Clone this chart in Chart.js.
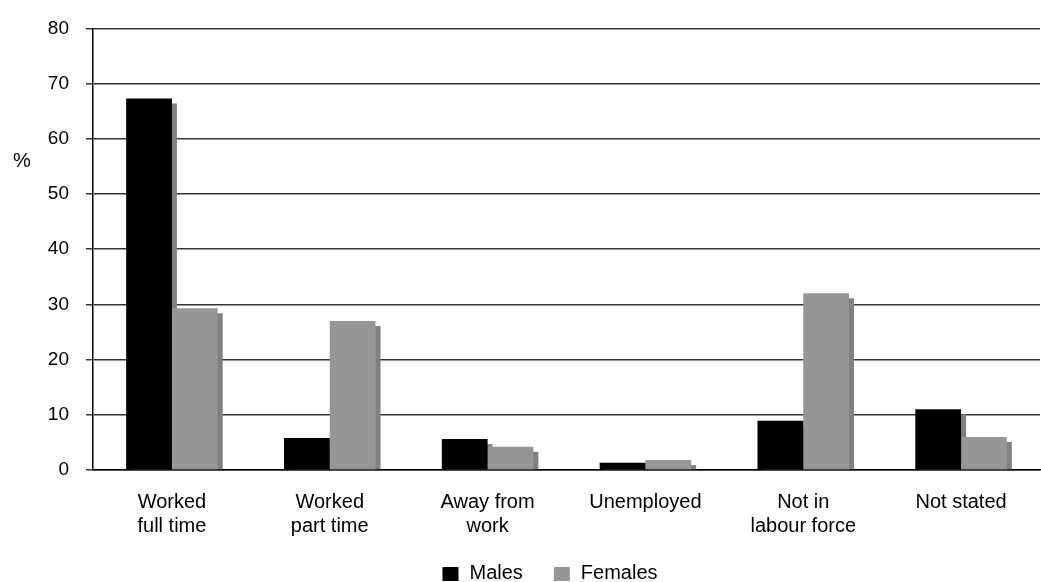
<!DOCTYPE html>
<html>
<head>
<meta charset="utf-8">
<script src="https://cdn.jsdelivr.net/npm/chart.js@4.4.1/dist/chart.umd.min.js"></script>
<style>
  html, body { margin: 0; padding: 0; background: #ffffff; }
  #wrap { width: 1041px; height: 582px; position: relative; }
</style>
</head>
<body>
<div id="wrap"><canvas id="chart"></canvas></div>
<script>
// Labour force status by sex (%)
const categories = [
  ['Worked', 'full time'],
  ['Worked', 'part time'],
  ['Away from', 'work'],
  'Unemployed',
  ['Not in', 'labour force'],
  'Not stated'
];
const males = [67.3, 5.8, 5.6, 1.3, 8.9, 11.0];
const females = [29.3, 27.0, 4.2, 1.8, 32.0, 6.0];
const yTicks = [0, 10, 20, 30, 40, 50, 60, 70, 80];

const FONT = "'Liberation Sans', Arial, sans-serif";
Chart.defaults.font.family = FONT;
Chart.defaults.font.size = 19;
Chart.defaults.color = '#000000';

// Flat offset "shadow" behind each bar, like the old spreadsheet 3D look
const barShadow = {
  id: 'barShadow',
  beforeDatasetsDraw(chart) {
    const ctx = chart.ctx;
    const area = chart.chartArea;
    ctx.save();
    ctx.beginPath();
    ctx.rect(area.left, area.top, area.right - area.left, area.bottom - area.top);
    ctx.clip();
    ctx.fillStyle = '#808080';
    chart.data.datasets.forEach((ds, i) => {
      const meta = chart.getDatasetMeta(i);
      meta.data.forEach(bar => {
        const { x, y, base, width } = bar.getProps(['x', 'y', 'base', 'width'], true);
        ctx.fillRect(x - width / 2 + 5, y + 5, width, base - y - 5);
      });
    });
    ctx.restore();
  }
};

// "%" unit label and the bottom legend, drawn by hand
const extras = {
  id: 'extras',
  afterDraw(chart) {
    const ctx = chart.ctx;
    ctx.save();
    ctx.font = '20px ' + FONT;
    ctx.fillStyle = '#000';
    ctx.textAlign = 'left';
    ctx.textBaseline = 'middle';
    ctx.fillText('%', 13, 161);

    // legend row
    const items = chart.data.datasets.map(ds => ({ text: ds.label, color: ds.backgroundColor }));
    const boxW = 16, boxH = 14, gap = 11, spacing = 31;
    let total = 0;
    items.forEach((it, i) => {
      it.w = ctx.measureText(it.text).width;
      total += boxW + gap + it.w + (i ? spacing : 0);
    });
    let x = 550 - total / 2;
    const cy = 573;
    items.forEach(it => {
      ctx.fillStyle = it.color;
      ctx.fillRect(x, cy - boxH / 2 + 1, boxW, boxH);
      ctx.fillStyle = '#000';
      ctx.fillText(it.text, x + boxW + gap, cy);
      x += boxW + gap + it.w + spacing;
    });
    ctx.restore();
  }
};

new Chart(document.getElementById('chart'), {
  type: 'bar',
  data: {
    labels: categories,
    datasets: [
      {
        label: 'Males',
        data: males,
        backgroundColor: '#000000',
        borderWidth: 0
      },
      {
        label: 'Females',
        data: females,
        backgroundColor: '#969696',
        borderWidth: 0
      }
    ]
  },
  options: {
    responsive: true,
    maintainAspectRatio: false,
    animation: false,
    layout: {
      padding: { top: 13, right: 1, left: 0, bottom: 24 }
    },
    datasets: {
      bar: {
        barPercentage: 1,
        categoryPercentage: 0.58
      }
    },
    plugins: {
      tooltip: { enabled: false },
      legend: { display: false }
    },
    scales: {
      x: {
        grid: { display: false, drawTicks: false },
        border: { display: true, color: '#000', width: 1.5 },
        ticks: {
          padding: 20,
          maxRotation: 0,
          autoSkip: false,
          font: { size: 20, family: FONT, lineHeight: 1.2 },
          color: '#000'
        }
      },
      y: {
        min: 0,
        max: 80,
        afterBuildTicks(scale) {
          scale.ticks = yTicks.map(v => ({ value: v }));
        },
        afterFit(scale) { scale.width = 93; },
        grid: {
          color: '#333',
          lineWidth: 1.5,
          drawTicks: true,
          tickLength: 7,
          tickColor: '#333'
        },
        border: { display: true, color: '#000', width: 1.5 },
        ticks: {
          padding: 17,
          font: { size: 19, family: FONT },
          color: '#000'
        }
      }
    }
  },
  plugins: [barShadow, extras]
});
</script>
</body>
</html>
